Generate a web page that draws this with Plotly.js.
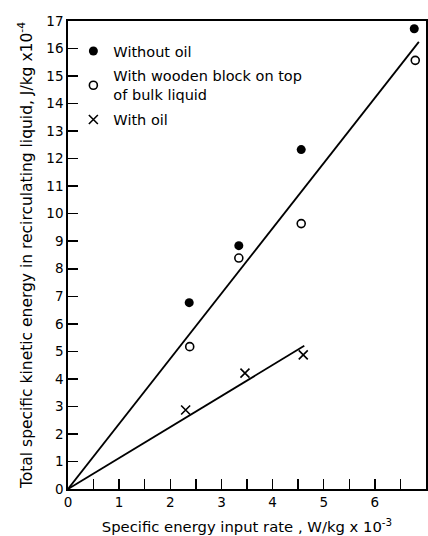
<!DOCTYPE html>
<html>
<head>
<meta charset="utf-8">
<script src="https://cdn.plot.ly/plotly-3.0.1.min.js"></script>
<style>html,body{margin:0;padding:0;background:#fff;}#chart{width:428px;height:536px;}</style>
</head>
<body>
<div id="chart"></div>
<script>
// Data
const withoutOilX = [2.37, 3.34, 4.56, 6.77];
const withoutOilY = [6.77, 8.84, 12.33, 16.72];
const woodenX = [2.38, 3.34, 4.56, 6.79];
const woodenY = [5.17, 8.39, 9.64, 15.57];
const withOilX = [2.30, 3.46, 4.60];
const withOilY = [2.87, 4.21, 4.87];
const fitUpperX = [0, 6.86];
const fitUpperY = [0, 16.24];
const fitLowerX = [0, 4.62];
const fitLowerY = [0, 5.20];
const legendNames = ['Without oil', 'With wooden block on top<br>of bulk liquid', 'With oil'];

const FONT = 'DejaVu Sans, Liberation Sans, sans-serif';

const traces = [
  {x: fitUpperX, y: fitUpperY, mode: 'lines', line: {color: '#000', width: 1.8}, showlegend: false, hoverinfo: 'skip'},
  {x: fitLowerX, y: fitLowerY, mode: 'lines', line: {color: '#000', width: 1.8}, showlegend: false, hoverinfo: 'skip'},
  {x: withoutOilX, y: withoutOilY, mode: 'markers', name: legendNames[0], legendgroup: 'a',
   marker: {symbol: 'circle', size: 9, color: '#000'}},
  {x: woodenX, y: woodenY, mode: 'markers', name: legendNames[1], legendgroup: 'b',
   marker: {symbol: 'circle-open', size: 8, color: '#000', line: {width: 1.6, color: '#000'}}},
  {x: withOilX, y: withOilY, mode: 'markers', name: legendNames[2], legendgroup: 'c',
   marker: {symbol: 'x-thin-open', size: 9, color: '#000', line: {width: 1.6, color: '#000'}}}
];

const layout = {
  width: 428, height: 536,
  margin: {l: 68, r: 2, t: 21, b: 47},
  paper_bgcolor: '#fff', plot_bgcolor: '#fff',
  font: {family: FONT, size: 13, color: '#000'},
  showlegend: true,
  legend: {x: 0.015, y: 0.97, xanchor: 'left', yanchor: 'top', bgcolor: 'rgba(0,0,0,0)',
           font: {family: FONT, size: 14.5, color: '#000'}, itemwidth: 30, tracegroupgap: 3},
  xaxis: {
    range: [0, 7], dtick: 1, tick0: 0, ticks: 'inside', ticklen: 10, tickwidth: 1.5, tickcolor: '#000',
    minor: {dtick: 0.5, ticks: 'inside', ticklen: 10, tickwidth: 1.5, tickcolor: '#000'},
    showline: true, linecolor: '#000', linewidth: 1.8, mirror: true,
    showgrid: false, zeroline: false,
    tickfont: {family: FONT, size: 13.5, color: '#000'},
    title: {text: 'Specific energy input rate , W/kg x 10<sup>-3</sup>', font: {family: FONT, size: 14.8, color: '#000'}, standoff: 13}
  },
  yaxis: {
    range: [0, 17], dtick: 1, tick0: 0, ticks: 'inside', ticklen: 10, tickwidth: 1.5, tickcolor: '#000',
    showline: true, linecolor: '#000', linewidth: 1.8, mirror: true,
    showgrid: false, zeroline: false,
    tickfont: {family: FONT, size: 13.5, color: '#000'},
    title: {text: 'Total specific kinetic energy in recirculating liquid, J/kg x10<sup>-4</sup>', font: {family: FONT, size: 15.5, color: '#000'}, standoff: 10}
  }
};

Plotly.newPlot('chart', traces, layout, {displayModeBar: false, staticPlot: true});
</script>
</body>
</html>
